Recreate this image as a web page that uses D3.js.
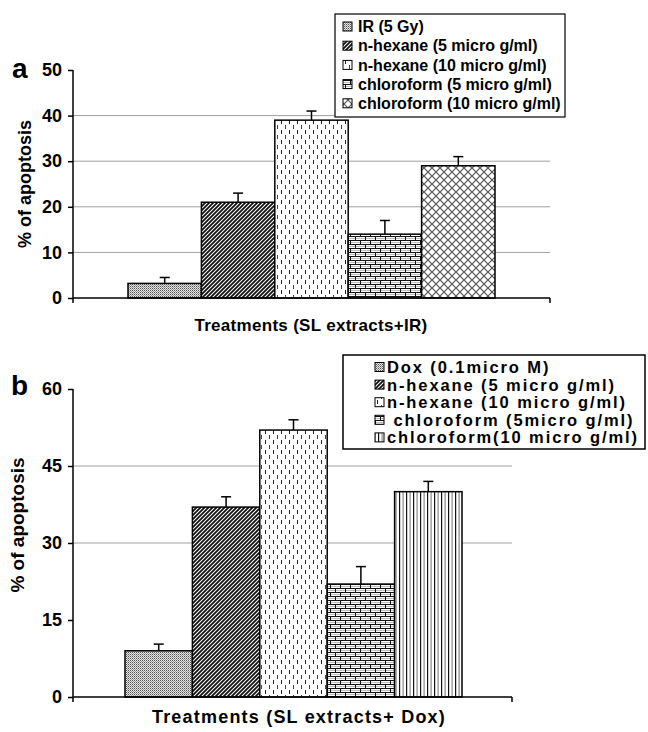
<!DOCTYPE html>
<html><head><meta charset="utf-8">
<script src="https://cdn.jsdelivr.net/npm/d3@7"></script>
<style>body{margin:0;background:#fff}svg{display:block}text{font-family:"Liberation Sans",Arial,sans-serif;font-weight:bold;fill:#000}</style>
</head><body>
<script>
// ---- data ----
const seriesA = ["IR (5 Gy)", "n-hexane (5 micro g/ml)", "n-hexane (10 micro g/ml)", "chloroform (5 micro g/ml)", "chloroform (10 micro g/ml)"];
const valuesA = [3.2, 21, 39, 14, 29];
const errorsA = [1.3, 2, 2, 3, 2];
const ticksA = [0, 10, 20, 30, 40, 50];
const gridA = [10, 20, 30, 40];

const seriesB = ["Dox (0.1micro M)", "n-hexane (5 micro g/ml)", "n-hexane (10 micro g/ml)", " chloroform (5micro g/ml)", "chloroform(10 micro g/ml)"];
const valuesB = [9, 37, 52, 22, 40];
const errorsB = [1.3, 2, 2, 3.4, 2];
const ticksB = [0, 15, 30, 45, 60];
const gridB = [30, 45];

const patternsA = ["dots", "diag", "dash", "brick", "cross"];
const patternsB = ["dots", "diag", "dash", "brick", "vlines"];

const svg = d3.select("body").append("svg").attr("width", 648).attr("height", 732);
const defs = svg.append("defs");

function pat(id, w, h, bg) {
  const p = defs.append("pattern").attr("id", id).attr("patternUnits", "userSpaceOnUse").attr("width", w).attr("height", h);
  p.append("rect").attr("width", w).attr("height", h).attr("fill", bg);
  return p;
}
// dots
{ const p = pat("dots", 2, 2, "#e4e4e4");
  p.append("rect").attr("x", 0).attr("y", 0).attr("width", 1).attr("height", 1).attr("fill", "#555");
  p.append("rect").attr("x", 1).attr("y", 1).attr("width", 1).attr("height", 1).attr("fill", "#999"); }
// diagonal
{ const p = pat("diag", 4, 4, "#fff");
  p.append("path").attr("d", "M-1,1 L1,-1 M0,4 L4,0 M3,5 L5,3").attr("stroke", "#111").attr("stroke-width", 1.8); }
// dashes
{ const p = pat("dash", 8, 10, "#fff");
  p.append("rect").attr("x", 1).attr("y", 0).attr("width", 1).attr("height", 4).attr("fill", "#222");
  p.append("rect").attr("x", 5).attr("y", 5).attr("width", 1).attr("height", 4).attr("fill", "#444"); }
// brick
{ const p = pat("brick", 10, 8, "#fff");
  p.append("rect").attr("x", 0).attr("y", 0).attr("width", 10).attr("height", 1).attr("fill", "#111");
  p.append("rect").attr("x", 0).attr("y", 4).attr("width", 10).attr("height", 1).attr("fill", "#111");
  p.append("rect").attr("x", 0).attr("y", 2).attr("width", 10).attr("height", 1).attr("fill", "#bbb");
  p.append("rect").attr("x", 0).attr("y", 6).attr("width", 10).attr("height", 1).attr("fill", "#bbb");
  p.append("rect").attr("x", 0).attr("y", 0).attr("width", 1).attr("height", 4).attr("fill", "#111");
  p.append("rect").attr("x", 5).attr("y", 4).attr("width", 1).attr("height", 4).attr("fill", "#111"); }
// crosshatch
{ const p = pat("cross", 8, 8, "#fff");
  p.append("path").attr("d", "M0,0 L8,8 M8,0 L0,8").attr("stroke", "#555").attr("stroke-width", 1.2); 
  p.append("path").attr("d", "M-4,4 L4,-4 M4,12 L12,4 M-4,4 L4,12 M4,-4 L12,4").attr("stroke", "#999").attr("stroke-width", 1); }
// vertical lines
{ const p = pat("vlines", 7, 4, "#fff");
  p.append("rect").attr("x", 0).attr("y", 0).attr("width", 1.2).attr("height", 4).attr("fill", "#111");
  p.append("rect").attr("x", 3.5).attr("y", 0).attr("width", 1.2).attr("height", 4).attr("fill", "#888"); }

function panel(o) {
  const g = svg.append("g");
  const y = d3.scaleLinear().domain(o.domain).range([o.y0, o.y1]);
  const x = d3.scaleBand().domain(o.series).range(o.barRange).padding(0);
  // grid
  g.selectAll(".grid").data(o.grid).join("line")
    .attr("x1", o.ax).attr("x2", o.axEnd).attr("y1", d => y(d)).attr("y2", d => y(d))
    .attr("stroke", "#a0a0a0").attr("stroke-width", 1);
  // bars
  g.selectAll(".bar").data(o.values).join("rect")
    .attr("x", (d, i) => x(o.series[i])).attr("width", x.bandwidth())
    .attr("y", d => y(d)).attr("height", d => y(0) - y(d))
    .attr("fill", (d, i) => `url(#${o.patterns[i]})`).attr("stroke", "#000").attr("stroke-width", 1.5);
  // error bars
  o.values.forEach((v, i) => {
    const cx = x(o.series[i]) + x.bandwidth() / 2;
    g.append("line").attr("x1", cx).attr("x2", cx).attr("y1", y(v)).attr("y2", y(v + o.errors[i])).attr("stroke", "#000").attr("stroke-width", 1.5);
    g.append("line").attr("x1", cx - 5).attr("x2", cx + 5).attr("y1", y(v + o.errors[i])).attr("y2", y(v + o.errors[i])).attr("stroke", "#000").attr("stroke-width", 1.5);
  });
  // y axis
  const yAxis = d3.axisLeft(y).tickValues(o.ticks).tickSize(5).tickPadding(6).tickFormat(d3.format("d"));
  const ya = g.append("g").attr("transform", `translate(${o.ax},0)`).call(yAxis);
  ya.select(".domain").remove();
  ya.selectAll(".tick line").attr("stroke", "#000").attr("stroke-width", 1.5);
  ya.selectAll(".tick text").style("font-size", o.tickFont + "px").style("font-family", '"Liberation Sans",Arial,sans-serif').style("font-weight", "bold").attr("fill", "#000");
  g.append("line").attr("x1", o.ax).attr("x2", o.ax).attr("y1", o.y1).attr("y2", o.y0 + 5).attr("stroke", "#000").attr("stroke-width", 1.5);
  // x axis
  g.append("line").attr("x1", o.ax).attr("x2", o.axEnd).attr("y1", o.y0).attr("y2", o.y0).attr("stroke", "#000").attr("stroke-width", 1.5);
  g.append("line").attr("x1", o.axEnd).attr("x2", o.axEnd).attr("y1", o.y0).attr("y2", o.y0 + 5).attr("stroke", "#000").attr("stroke-width", 1.5);
  // titles
  g.append("text").attr("transform", `translate(${o.ytX},${o.ytY}) rotate(-90)`).attr("text-anchor", "middle")
    .style("font-size", o.ytFont + "px").text("% of apoptosis");
  g.append("text").attr("x", o.xtX).attr("y", o.xtY).attr("text-anchor", "middle")
    .style("font-size", o.xtFont + "px").style("letter-spacing", o.xtLs + "px").text(o.xTitle);
  g.append("text").attr("x", o.lblX).attr("y", o.lblY).style("font-size", "28px").text(o.label);
  // legend
  const L = o.legend;
  g.append("rect").attr("x", L.x).attr("y", L.y).attr("width", L.w).attr("height", L.h)
    .attr("fill", "#fff").attr("stroke", "#000").attr("stroke-width", L.sw);
  o.series.forEach((s, i) => {
    const cy = L.y + L.first + i * L.step;
    g.append("rect").attr("x", L.sx).attr("y", cy - 4.5).attr("width", 9).attr("height", 9)
      .attr("fill", `url(#${o.patterns[i]})`).attr("stroke", "#000").attr("stroke-width", 1);
    g.append("text").attr("x", L.tx).attr("y", cy + L.font * 0.36).style("font-size", L.font + "px")
      .style("letter-spacing", L.ls + "px").style("white-space", "pre").text(s);
  });
}

panel({
  series: seriesA, values: valuesA, errors: errorsA, ticks: ticksA, grid: gridA, patterns: patternsA,
  domain: [0, 50], y0: 298, y1: 70, barRange: [128, 495], ax: 73, axEnd: 550, tickFont: 18,
  ytX: 31, ytY: 184, ytFont: 18, xTitle: "Treatments (SL extracts+IR)", xtX: 311, xtY: 331, xtFont: 17, xtLs: 0.3,
  label: "a", lblX: 12, lblY: 78,
  legend: { x: 335, y: 14, w: 230, h: 103, sw: 1.2, first: 12.5, step: 19.2, sx: 343, tx: 358, font: 16, ls: 0 }
});
panel({
  series: seriesB, values: valuesB, errors: errorsB, ticks: ticksB, grid: gridB, patterns: patternsB,
  domain: [0, 60], y0: 697, y1: 389, barRange: [125, 462], ax: 73, axEnd: 512, tickFont: 18,
  ytX: 24, ytY: 525, ytFont: 19, xTitle: "Treatments (SL extracts+ Dox)", xtX: 299, xtY: 723, xtFont: 18, xtLs: 1.2,
  label: "b", lblX: 11, lblY: 395,
  legend: { x: 343, y: 355, w: 302, h: 94, sw: 1.5, first: 12, step: 17.6, sx: 375, tx: 387, font: 16.5, ls: 1.9 }
});
</script>
</body></html>
